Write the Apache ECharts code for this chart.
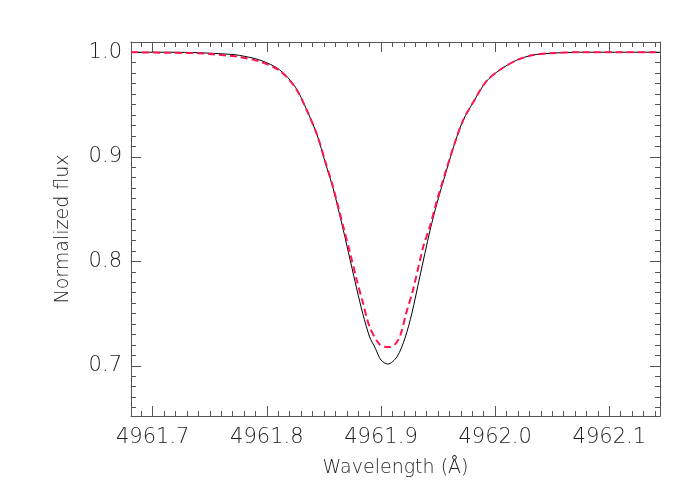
<!DOCTYPE html>
<html>
<head>
<meta charset="utf-8">
<script src="https://cdn.jsdelivr.net/npm/echarts@6/dist/echarts.min.js"></script>
<style>
  html, body { margin: 0; padding: 0; background: #fff; }
  #chart { width: 700px; height: 500px; }
</style>
</head>
<body>
<div id="chart"></div>
<script>
// model profile (solid black)
const modelWave = [4961.681, 4961.715, 4961.741, 4961.768, 4961.776, 4961.794, 4961.811, 4961.825, 4961.835, 4961.844,
    4961.851, 4961.858, 4961.867, 4961.873, 4961.879, 4961.884, 4961.890, 4961.895, 4961.900, 4961.906,
    4961.914, 4961.921, 4961.927, 4961.934, 4961.943, 4961.949, 4961.957, 4961.965, 4961.972, 4961.981,
    4961.992, 4962.004, 4962.019, 4962.033, 4962.048, 4962.074, 4962.144];
const modelFlux = [1.0, 1.0, 0.9995, 0.998, 0.997, 0.9925, 0.9834, 0.9667, 0.9447, 0.9208,
    0.8952, 0.870, 0.8298, 0.8011, 0.7724, 0.7501, 0.7277, 0.7169, 0.7055, 0.7017,
    0.7086, 0.7265, 0.7501, 0.7852, 0.8298, 0.8554, 0.8856, 0.9144, 0.9351, 0.9526,
    0.9718, 0.983, 0.9925, 0.9973, 0.999, 1.0, 1.0];

// observed / fitted profile (red dashed)
const obsWave = [4961.681, 4961.715, 4961.741, 4961.768, 4961.776, 4961.794, 4961.811, 4961.825, 4961.835, 4961.844,
    4961.851, 4961.858, 4961.867, 4961.873, 4961.879, 4961.884, 4961.890, 4961.898, 4961.903, 4961.908,
    4961.913, 4961.917, 4961.922, 4961.928, 4961.937, 4961.943, 4961.949, 4961.957, 4961.965, 4961.972,
    4961.981, 4961.992, 4962.004, 4962.019, 4962.033, 4962.048, 4962.074, 4962.144];
const obsFlux = [1.0, 0.9995, 0.999, 0.9965, 0.9955, 0.991, 0.9825, 0.966, 0.9445, 0.921,
    0.896, 0.871, 0.833, 0.8075, 0.781, 0.761, 0.7373, 0.7214, 0.7182, 0.718,
    0.7215, 0.7294, 0.7501, 0.7724, 0.8139, 0.834, 0.858, 0.887, 0.9144, 0.9351,
    0.9526, 0.9718, 0.983, 0.9925, 0.9973, 0.999, 1.0, 1.0];

const xMin = 4961.681, xMax = 4962.1444;
const yMin = 0.652, yMax = 1.0098;

const chart = echarts.init(document.getElementById('chart'));

const frameColor = '#555';
const textColor = '#1e1e1e';
const labelFont = { fontFamily: 'DejaVu Sans', fontWeight: 200, fontSize: 21, color: textColor };

function frameAxis(position, min, max, splitNumber, showLabel) {
    return {
        type: 'value',
        position: position,
        min: min,
        max: max,
        splitNumber: splitNumber,
        scale: true,
        axisLine: { show: true, onZero: false, lineStyle: { color: frameColor, width: 1 } },
        axisTick: { show: true, inside: true, length: 10, lineStyle: { color: frameColor } },
        minorTick: { show: true, splitNumber: 10, length: 5, lineStyle: { color: frameColor } },
        splitLine: { show: false },
        minorSplitLine: { show: false },
        axisLabel: Object.assign({
            show: showLabel,
            showMinLabel: false,
            showMaxLabel: false,
            formatter: v => v.toFixed(1)
        }, labelFont)
    };
}

const xBottom = frameAxis('bottom', xMin, xMax, 5, true);
xBottom.axisLabel.margin = 11;
xBottom.name = 'Wavelength (Å)';
xBottom.nameLocation = 'middle';
xBottom.nameGap = 43;
xBottom.nameTextStyle = { fontFamily: 'DejaVu Sans', fontWeight: 200, fontSize: 19, color: textColor };

const yLeft = frameAxis('left', yMin, yMax, 4, true);
yLeft.axisLabel.margin = 9;
yLeft.name = 'Normalized flux';
yLeft.nameLocation = 'middle';
yLeft.nameGap = 58;
yLeft.nameTextStyle = { fontFamily: 'DejaVu Sans', fontWeight: 200, fontSize: 19, color: textColor };

chart.setOption({
    animation: false,
    backgroundColor: '#fff',
    grid: { left: 131, right: 40, top: 42, bottom: 84 },
    xAxis: [xBottom, frameAxis('top', xMin, xMax, 5, false)],
    yAxis: [yLeft, frameAxis('right', yMin, yMax, 4, false)],
    series: [
        {
            type: 'line',
            xAxisIndex: 0,
            yAxisIndex: 0,
            data: modelWave.map((w, i) => [w, modelFlux[i]]),
            showSymbol: false,
            smooth: 0.3,
            lineStyle: { color: '#000', width: 1 },
            z: 3
        },
        {
            type: 'line',
            xAxisIndex: 0,
            yAxisIndex: 0,
            data: obsWave.map((w, i) => [w, obsFlux[i]]),
            showSymbol: false,
            smooth: 0.3,
            lineStyle: { color: '#ff1450', width: 2, type: [7, 4] },
            z: 4
        }
    ]
});
</script>
</body>
</html>
